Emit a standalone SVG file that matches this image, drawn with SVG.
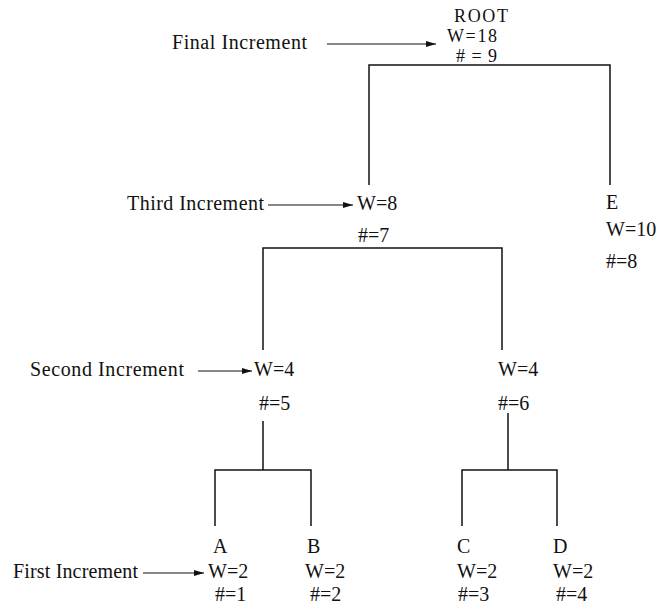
<svg xmlns="http://www.w3.org/2000/svg" width="661" height="604" viewBox="0 0 661 604">
<style>
text{font-family:"Liberation Serif","Times New Roman",serif;font-size:20px;fill:#111}
.sm{font-size:18px}
.c{fill:none;stroke:#111;stroke-width:1.5}
.a{fill:none;stroke:#111;stroke-width:1.2}
</style>
<defs>
<marker id="ah" viewBox="0 0 10 6" refX="10" refY="3" markerWidth="10" markerHeight="6" markerUnits="userSpaceOnUse" orient="auto">
<path d="M0,0 L10,3 L0,6 Z" fill="#111"/>
</marker>
</defs>
<rect width="661" height="604" fill="#fff"/>
<g id="connectors">
<path class="c" d="M369,185 V65 H610 V185"/>
<path class="c" d="M263,350 V248 H502 V350"/>
<path class="c" d="M263,421 V470 M215,526 V470 H311 V526"/>
<path class="c" d="M508,413 V470 M462,526 V470 H557 V526"/>
<line class="a" x1="327" y1="44" x2="436" y2="44" marker-end="url(#ah)"/>
<line class="a" x1="268" y1="205" x2="353" y2="205" marker-end="url(#ah)"/>
<line class="a" x1="198" y1="371" x2="252" y2="371" marker-end="url(#ah)"/>
<line class="a" x1="143" y1="573" x2="204" y2="573" marker-end="url(#ah)"/>
</g>
<g id="label-final"><text x="172" y="49" textLength="135">Final Increment</text></g>
<g id="label-third"><text x="127" y="210" textLength="137">Third Increment</text></g>
<g id="label-second"><text x="30" y="376" textLength="154">Second Increment</text></g>
<g id="label-first"><text x="13" y="578" textLength="125">First Increment</text></g>
<g id="node-root"><text class="sm" x="454" y="22" textLength="54">ROOT</text><text class="sm" x="447" y="42" textLength="50">W=18</text><text class="sm" x="456" y="62" textLength="41"># = 9</text></g>
<g id="node-w8"><text x="357" y="210">W=8</text><text x="358" y="242">#=7</text></g>
<g id="node-e"><text x="606" y="209">E</text><text x="606" y="236">W=10</text><text x="606" y="268">#=8</text></g>
<g id="node-w4a"><text x="254" y="376">W=4</text><text x="259" y="410">#=5</text></g>
<g id="node-w4b"><text x="498" y="376">W=4</text><text x="498" y="410">#=6</text></g>
<g id="node-a"><text x="213" y="553">A</text><text x="208" y="578">W=2</text><text x="215" y="601">#=1</text></g>
<g id="node-b"><text x="307" y="553">B</text><text x="305" y="578">W=2</text><text x="310" y="601">#=2</text></g>
<g id="node-c"><text x="457" y="553">C</text><text x="457" y="578">W=2</text><text x="458" y="601">#=3</text></g>
<g id="node-d"><text x="553" y="553">D</text><text x="553" y="578">W=2</text><text x="556" y="601">#=4</text></g>
</svg>
